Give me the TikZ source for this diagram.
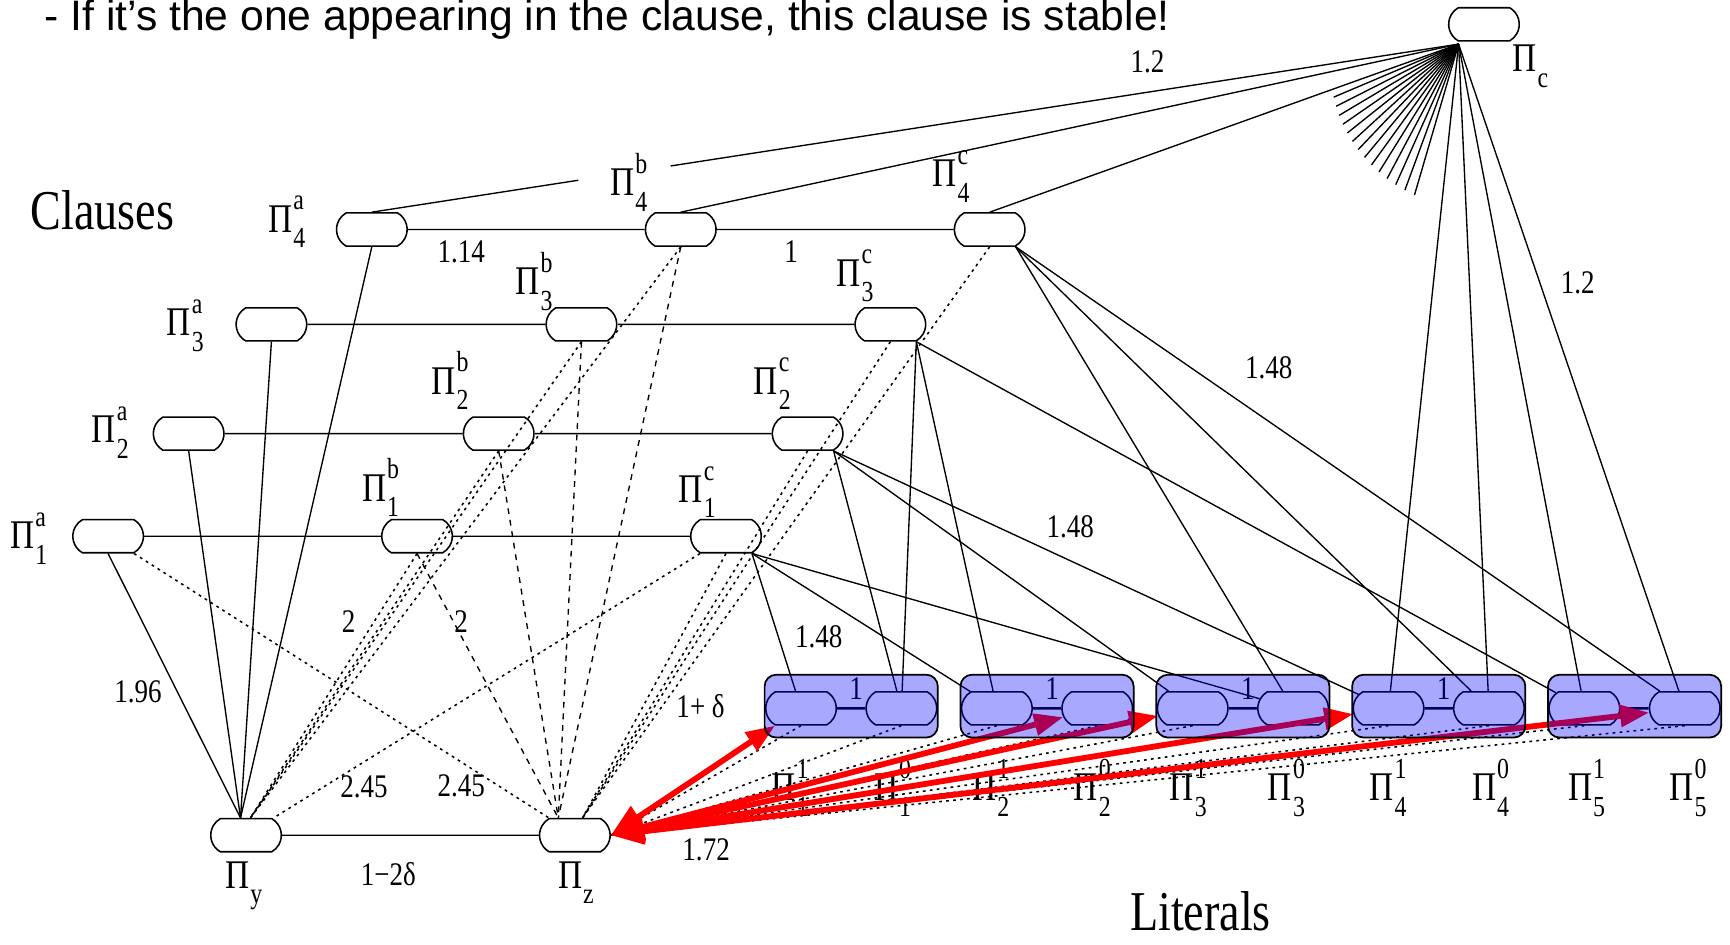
\documentclass[tikz,border=0pt]{standalone}
\usepackage{fontspec}
\setmainfont{Liberation Serif}[FakeStretch=0.82]
\newfontfamily\titlefont{Liberation Sans}
\usepackage{tikz}
\usetikzlibrary{shapes.misc, arrows.meta, calc}

% player with stacked super- and subscript
\newcommand{\pil}[2]{Π\kern0.5pt\rlap{\raisebox{0.55em}{\fontsize{15}{15}\selectfont #1}}\raisebox{-0.38em}{\fontsize{15}{15}\selectfont #2}}

\begin{document}
\begin{tikzpicture}[
    x=0.02cm, y=-0.02cm,
    player/.style={rounded rectangle, rounded rectangle arc length=120, draw, line width=0.8pt, fill=white, minimum width=1.28cm, minimum height=0.6cm, inner sep=0pt},
    lbl/.style={font=\fontsize{21}{21}\selectfont, inner sep=0pt},
    wt/.style={font=\fontsize{17}{17}\selectfont, inner sep=0pt},
    big/.style={font=\fontsize{29}{29}\selectfont, inner sep=0pt},
    edge/.style={line width=0.7pt},
    dotedge/.style={line width=0.8pt, dash pattern=on 1.4pt off 2.2pt},
    dashedge/.style={line width=0.7pt, dash pattern=on 3pt off 3pt},
    redarrow/.style={red, line width=3pt, {Triangle[length=17pt,width=13pt]}-{Triangle[length=15pt,width=11pt]}},
    litbox/.style={draw, line width=0.9pt, rounded corners=6pt, fill=blue, fill opacity=0.34, draw opacity=1, minimum width=3.14cm, minimum height=1.14cm}
]
\useasboundingbox (0,0) rectangle (1568,856);

% Title
\node[anchor=base west, font=\titlefont\fontsize{22}{26}\selectfont, inner sep=0pt] (title) at (40,28) {- If it’s the one appearing in the clause, this clause is stable!};

% Clause players
\node[player] (a4) at (337,208) {};
\node[player] (b4) at (617,208) {};
\node[player] (c4) at (897,208) {};
\node[player] (a3) at (246,294) {};
\node[player] (b3) at (527,294) {};
\node[player] (c3) at (807,294) {};
\node[player] (a2) at (171,393) {};
\node[player] (b2) at (452,393) {};
\node[player] (c2) at (732,393) {};
\node[player] (a1) at (98,486) {};
\node[player] (b1) at (378,486) {};
\node[player] (c1) at (658,486) {};

% Special players
\node[player] (py) at (223,757) {};
\node[player] (pz) at (521,757) {};
\node[player] (pc) at (1345,22) {};
\coordinate (hub) at (1322,40);

% Literal players
\foreach \i/\x in {1/693,2/870.5,3/1048,4/1225.5,5/1403} {
  \node[player] (l\i1) at (\x+33,642) {};
  \node[player] (l\i0) at (\x+124,642) {};
}

% Player labels
\node[lbl] at (260,201) {\pil{a}{4}};
\node[lbl] at (570,165) {\pil{b}{4}};
\node[lbl] at (862,160) {\pil{c}{4}};
\node[lbl] at (168,295) {\pil{a}{3}};
\node[lbl] at (484,255) {\pil{b}{3}};
\node[lbl] at (775,250) {\pil{c}{3}};
\node[lbl] at (100,392) {\pil{a}{2}};
\node[lbl] at (408,345) {\pil{b}{2}};
\node[lbl] at (700,348) {\pil{c}{2}};
\node[lbl] at (26,488) {\pil{a}{1}};
\node[lbl] at (345,442) {\pil{b}{1}};
\node[lbl] at (632,446) {\pil{c}{1}};
\node[lbl] at (221,803) {\pil{}{y}};
\node[lbl] at (522,800) {\pil{}{z}};
\node[lbl] at (1387,60) {\pil{}{c}};
\foreach \i/\xa/\xb in {1/716/809,2/898/990,3/1077/1166,4/1258/1351,5/1438/1530} {
  \node[lbl] at (\xa,714) {\pil{1}{\i}};
  \node[lbl] at (\xb,714) {\pil{0}{\i}};
}

% Group titles
\node[big] at (93,191) {Clauses};
\node[big] at (1088,826) {Literals};

% Clause rows
\foreach \r in {1,...,4} \draw[edge] (a\r) -- (b\r) -- (c\r);
\draw[edge] (py) -- (pz);

% Edges to Pi_y and Pi_z
\coordinate (ya) at ($(py.north)+(-5,0)$);
\coordinate (yb) at ($(py.north)+(4,0)$);
\coordinate (zb) at ($(pz.north)+(-15,0)$);
\coordinate (zc) at ($(pz.north)+(7,0)$);
\foreach \r in {1,...,4} {
  \draw[edge] (a\r.south) -- (ya);
  \draw[dotedge] (b\r.south) -- (yb);
  \draw[dashedge] (b\r.south) -- (zb);
  \draw[dotedge] (c\r.south) -- (zc);
}
\draw[dotedge] (a1.south east) -- (pz.north west);
\draw[dotedge] (c1.south west) -- ($(py.north)+(25,0)$);

% Clause c to literals
\foreach \n in {l11,l21,l30} \draw[edge] (c1.south east) -- (\n);
\foreach \n in {l10,l31,l41} \draw[edge] (c2.south east) -- (\n);
\foreach \n in {l10,l21,l51} \draw[edge] (c3.south east) -- (\n);
\foreach \n in {l30,l40,l50} \draw[edge] (c4.south east) -- (\n);

% Pi_c
\draw[edge] (a4.north) -- ($(a4.north)!0.19!(hub)$);
\draw[edge] ($(a4.north)!0.275!(hub)$) -- (hub);
\draw[edge] (b4.north) -- (hub);
\draw[edge] (c4.north) -- (hub);
\foreach \n in {l41,l40,l51,l50} \draw[edge] (hub) -- (\n);
\foreach \k in {0,...,13} {
  \pgfmathsetmacro{\ang}{203+3.9*\k}
  \pgfmathsetmacro{\len}{123+1.5*\k}
  \draw[edge] (hub) -- ++({\len*cos(\ang)},{-\len*sin(\ang)});
}

% Literal pairs
\foreach \i in {1,...,5} \draw[edge, line width=1.2pt] (l\i1) -- (l\i0);
\foreach \x in {693,870.5,1048,1225.5} \node[wt] at (\x+83,624) {1};
\foreach \i in {1,...,5} {
  \draw[dotedge] (l\i1.south) -- (pz.east);
  \draw[dotedge] (l\i0.south) -- (pz.east);
}

% Weights
\node[wt] at (1040,56) {1.2};
\node[wt] at (418,228) {1.14};
\node[wt] at (717,228) {1};
\node[wt] at (1430,256) {1.2};
\node[wt] at (1150,333) {1.48};
\node[wt] at (970,477) {1.48};
\node[wt] at (316,563) {2};
\node[wt] at (418,563) {2};
\node[wt] at (742,577) {1.48};
\node[wt] at (125,627) {1.96};
\node[wt] at (635,640) {1+ δ};
\node[wt] at (330,713) {2.45};
\node[wt] at (418,712) {2.45};
\node[wt] at (640,770) {1.72};
\node[wt] at (352,792) {1−2δ};

% Chosen literals
\foreach \n in {l11,l20,l31,l41,l50} \draw[redarrow] (pz.east) -- (\n);

% Literal boxes on top
\foreach \i/\x in {1/693,2/870.5,3/1048,4/1225.5,5/1403} \node[litbox] (box\i) at (\x+78.5,640) {};

\end{tikzpicture}
\end{document}
